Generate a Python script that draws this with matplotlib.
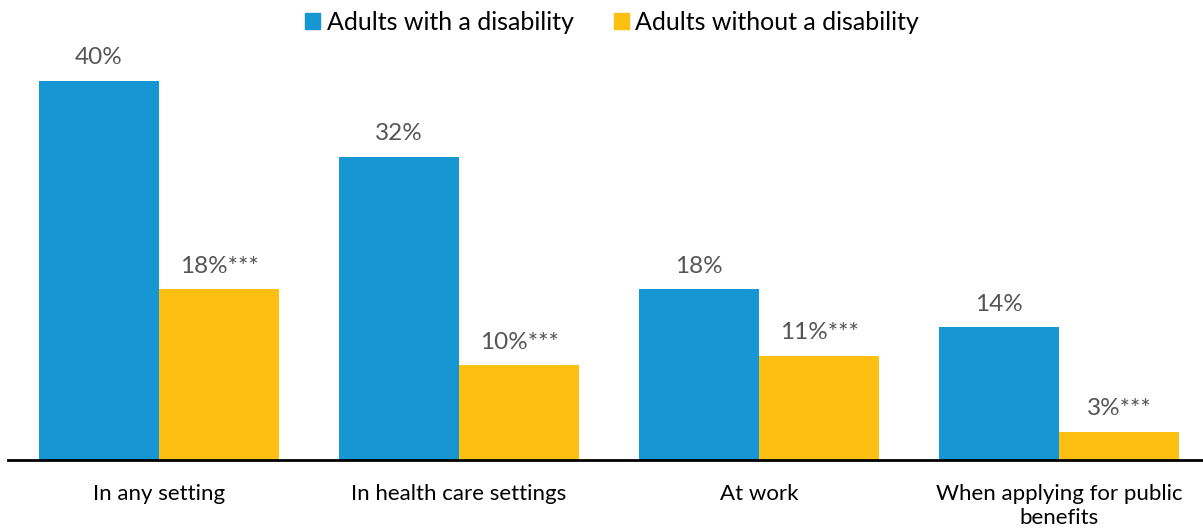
import numpy as np
import matplotlib
matplotlib.use('Agg')
import matplotlib.pyplot as plt
from matplotlib.patches import Patch

plt.rcParams['font.family'] = ['Lato', 'DejaVu Sans']

# Share of adults reporting unfair treatment, by setting
categories = ['In any setting', 'In health care settings', 'At work',
              'When applying for public\nbenefits']
with_disability = [40, 32, 18, 14]
without_disability = [18, 10, 11, 3]
sig_marks = ['***', '***', '***', '***']
series_names = ['Adults with a disability', 'Adults without a disability']

blue = '#1696d2'
yellow = '#fdbf11'
label_grey = '#555555'

fig = plt.figure(figsize=(12.03, 5.29), dpi=100)
ax = fig.add_axes([8 / 1203, 1 - 460 / 529, 1 - 8 / 1203, 420 / 529])

x = np.arange(len(categories))
w = 0.4
b1 = ax.bar(x - w / 2, with_disability, w, color=blue)
b2 = ax.bar(x + w / 2, without_disability, w, color=yellow)

ax.set_xlim(-0.5033, -0.5033 + 1195 / 300)
ax.set_ylim(0, 40 * 420 / 379)

for rect, v in zip(b1, with_disability):
    ax.annotate(f'{v}%', (rect.get_x() + rect.get_width() / 2, v),
                xytext=(0, 9), textcoords='offset points',
                ha='center', va='bottom', fontsize=17.5, color=label_grey)

for rect, v, s in zip(b2, without_disability, sig_marks):
    ax.annotate(f'{v}%{s}', (rect.get_x() + rect.get_width() / 2, v),
                xytext=(0, 9), textcoords='offset points',
                ha='center', va='bottom', fontsize=17.5, color=label_grey)

for s in ['top', 'right', 'left']:
    ax.spines[s].set_visible(False)
ax.spines['bottom'].set_linewidth(2)
ax.spines['bottom'].set_color('black')
ax.set_yticks([])
ax.set_xticks(x)
ax.set_xticklabels(categories, fontsize=16, color='black', linespacing=1.3)
ax.tick_params(axis='x', length=0, pad=17)

handles = [Patch(color=blue), Patch(color=yellow)]
fig.legend(handles, series_names, loc='center', bbox_to_anchor=(612 / 1203, 1 - 22 / 529),
           ncol=2, frameon=False, fontsize=18, handlelength=0.6, handleheight=0.6,
           handletextpad=0.25, columnspacing=1.6)

fig.savefig('out.png', dpi=100)
